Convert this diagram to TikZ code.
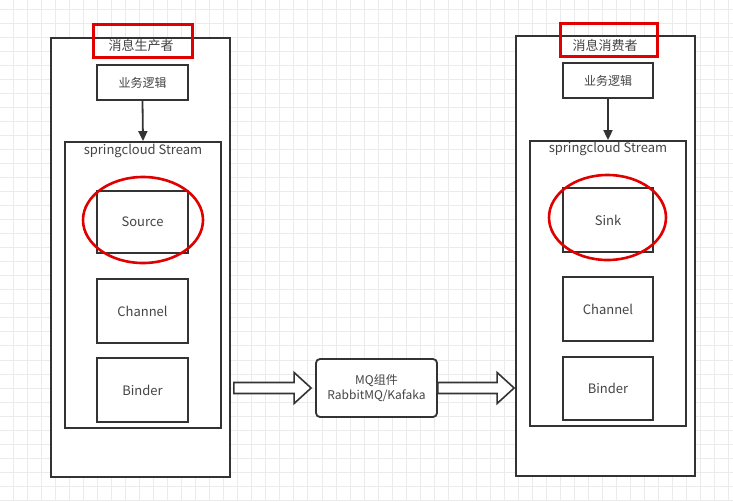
\documentclass[tikz,border=0pt]{standalone}
\usepackage{fontspec}
\setmainfont{Noto Sans CJK SC}
\usetikzlibrary{arrows.meta}
\definecolor{linec}{HTML}{333333}
\definecolor{txtc}{HTML}{444444}
\definecolor{redc}{HTML}{E00000}
\definecolor{gridc}{HTML}{EBEBEB}
\tikzset{
  box/.style={draw=linec, line width=1.8pt, fill=white, inner sep=0pt, text=txtc, font=\fontsize{12}{14}\selectfont},
  redbox/.style={draw=redc, line width=3pt, inner sep=0pt},
  lbl/.style={text=txtc, inner sep=0pt},
  flow/.style={draw=linec, line width=1.8pt, -{Triangle[length=10pt,width=9pt]}},
  blockarrow/.style={draw=linec, line width=1.6pt, fill=white, line join=miter},
}
\begin{document}
\begin{tikzpicture}[x=1pt,y=-1pt]
\useasboundingbox (0,0) rectangle (733,501);
\fill[white] (0,0) rectangle (733,501);
% grid
\foreach \i in {0,...,52} { \draw[gridc, line width=0.6pt] ({13.36+14.02*\i},0) -- ({13.36+14.02*\i},501); }
\foreach \j in {0,...,35} { \draw[gridc, line width=0.6pt] (0,{9.3+14.02*\j}) -- (733,{9.3+14.02*\j}); }

% ---------- producer ----------
\node[box, minimum width=179pt, minimum height=439pt] (outerL) at (140.5,257.5) {};
\node[redbox, minimum width=99pt, minimum height=33pt] (redL) at (142.5,40.5) {};
\node[lbl, font=\fontsize{13}{15}\selectfont] (titleL) at (141,46) {消息生产者};
\node[box, minimum width=91pt, minimum height=35pt] (bizL) at (142.5,82.5) {业务逻辑};
\node[box, minimum width=156pt, minimum height=286pt] (streamL) at (143,285) {};
\node[lbl, font=\fontsize{13}{15}\selectfont] (streamLtxt) at (143,151) {springcloud Stream};
\node[box, minimum width=91pt, minimum height=62pt, font=\fontsize{13}{15}\selectfont] (sourceL) at (142.5,222) {Source};
\node[box, minimum width=91pt, minimum height=64pt, font=\fontsize{13}{15}\selectfont] (channelL) at (142.5,311) {Channel};
\node[box, minimum width=91pt, minimum height=64pt, font=\fontsize{13}{15}\selectfont] (binderL) at (142.5,390) {Binder};
\draw[redc, line width=2.6pt] (143,220) ellipse [x radius=60, y radius=43];
\draw[flow] (bizL.south) -- (streamL.north);

% ---------- consumer ----------
\node[box, minimum width=179pt, minimum height=440pt] (outerR) at (605.5,256) {};
\node[redbox, minimum width=97pt, minimum height=33pt] (redR) at (608.5,39.5) {};
\node[lbl, font=\fontsize{13}{15}\selectfont] (titleR) at (605,45) {消息消费者};
\node[box, minimum width=90pt, minimum height=35pt] (bizR) at (608,80.5) {业务逻辑};
\node[box, minimum width=156pt, minimum height=285pt] (streamR) at (608,283.5) {};
\node[lbl, font=\fontsize{13}{15}\selectfont] (streamRtxt) at (608,149) {springcloud Stream};
\node[box, minimum width=90pt, minimum height=64pt, font=\fontsize{13}{15}\selectfont] (sinkR) at (608,220) {Sink};
\node[box, minimum width=90pt, minimum height=64pt, font=\fontsize{13}{15}\selectfont] (channelR) at (608,309) {Channel};
\node[box, minimum width=90pt, minimum height=63pt, font=\fontsize{13}{15}\selectfont] (binderR) at (608,388.5) {Binder};
\draw[redc, line width=2.6pt] (607.5,217.5) ellipse [x radius=58.5, y radius=42.5];
\draw[flow] (bizR.south) -- (streamR.north);

% ---------- MQ ----------
\node[box, rounded corners=4pt, minimum width=121pt, minimum height=58pt, align=center, font=\fontsize{12}{15}\selectfont] (mq) at (376.5,388) {MQ组件\\RabbitMQ/Kafaka};

% block arrows
\coordinate (a1s) at ([xshift=3pt]outerL.east |- mq.west);
\coordinate (a1e) at ([xshift=-4pt]mq.west);
\draw[blockarrow] ([yshift=-5.5pt]a1s) -- ([xshift=-17pt,yshift=-5.5pt]a1e) -- ([xshift=-17pt,yshift=-15.5pt]a1e) -- (a1e)
  -- ([xshift=-17pt,yshift=15.5pt]a1e) -- ([xshift=-17pt,yshift=5.5pt]a1e) -- ([yshift=5.5pt]a1s) -- cycle;
\coordinate (a2s) at (mq.east);
\coordinate (a2e) at ([xshift=-1pt]outerR.west |- mq.east);
\draw[blockarrow] ([yshift=-5.5pt]a2s) -- ([xshift=-17pt,yshift=-5.5pt]a2e) -- ([xshift=-17pt,yshift=-15.5pt]a2e) -- (a2e)
  -- ([xshift=-17pt,yshift=15.5pt]a2e) -- ([xshift=-17pt,yshift=5.5pt]a2e) -- ([yshift=5.5pt]a2s) -- cycle;
\end{tikzpicture}
\end{document}
